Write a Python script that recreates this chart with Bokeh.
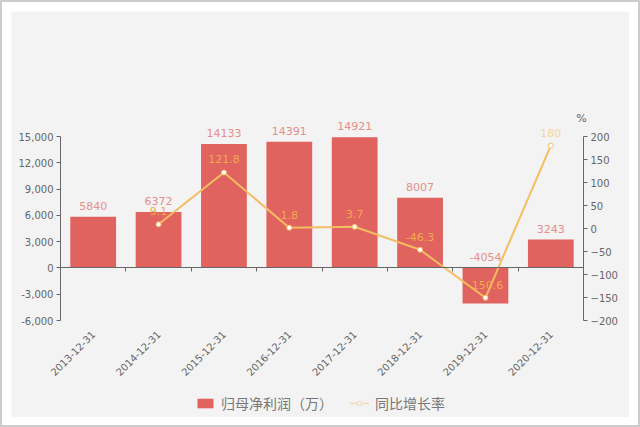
import math
from bokeh.plotting import figure
from bokeh.layouts import row, column
from bokeh.models import (Range1d, LinearAxis, FixedTicker, NumeralTickFormatter,
                          ColumnDataSource, Legend, LegendItem, Label, Spacer)
from bokeh.core.properties import value
from bokeh.embed import file_html
from bokeh.resources import INLINE

# ---- data ----
dates = ["2013-12-31", "2014-12-31", "2015-12-31", "2016-12-31",
         "2017-12-31", "2018-12-31", "2019-12-31", "2020-12-31"]
profit = [5840, 6372, 14133, 14391, 14921, 8007, -4054, 3243]
growth = [None, 9.1, 121.8, 1.8, 3.7, -46.3, -150.6, 180]
left_ticks = [-6000, -3000, 0, 3000, 6000, 9000, 12000, 15000]
right_ticks = [-200, -150, -100, -50, 0, 50, 100, 150, 200]
bar_name = "归母净利润（万）"
line_name = "同比增长率"

BG = "#f3f3f3"
BAR = "#e06360"
BAR_LBL = "#e48f8c"
LINE = "#f5bd62"
LINE_LBL = "#f2aa4a"
PALE = "#f7d9ae"
AXIS = "#666666"
NUMFONT = "DejaVu Sans"
CJK = "Noto Sans CJK SC"

# ---- layout (pixels, relative to the figure) ----
W, H = 618, 406
AX_L_PX, AX_R_PX = 49, 572               # left / right value axes
AX_TOP_PX, AX_BOT_PX = 125, 309          # where 15,000 / -6,000 sit
L_LO, L_HI = left_ticks[0], left_ticks[-1]
R_LO, R_HI = right_ticks[0], right_ticks[-1]
n = len(dates)
k = (AX_BOT_PX - AX_TOP_PX) / (L_HI - L_LO)          # px per unit
y_top = L_LO + AX_BOT_PX / k
y_bot = L_LO - (H - AX_BOT_PX) / k
c = (AX_R_PX - AX_L_PX) / n                          # px per category
x_lo = -AX_L_PX / c
x_hi = n + (W - AX_R_PX) / c
to_pct = lambda v: R_LO + (v - L_LO) * (R_HI - R_LO) / (L_HI - L_LO)

xc = [i + 0.5 for i in range(n)]

p = figure(width=W, height=H, x_range=Range1d(x_lo, x_hi), y_range=Range1d(y_bot, y_top),
           output_backend="svg", toolbar_location=None, tools="",
           background_fill_color=BG, border_fill_color=BG, outline_line_color=None,
           min_border_left=0, min_border_right=0, min_border_top=0, min_border_bottom=0)
p.xaxis.visible = False
p.yaxis.visible = False
p.xgrid.visible = False
p.ygrid.visible = False
p.extra_y_ranges = {"pct": Range1d(to_pct(y_bot), to_pct(y_top)),
                    "off": Range1d(1e6, 2e6)}

def style_axis(ax, size="10px"):
    ax.axis_line_color = AXIS
    ax.major_tick_line_color = AXIS
    ax.minor_tick_line_color = None
    ax.major_tick_out = 4
    ax.major_tick_in = 0
    ax.major_label_text_color = AXIS
    ax.major_label_text_font = NUMFONT
    ax.major_label_text_font_size = size
    ax.major_label_standoff = 3

ly = LinearAxis(fixed_location=0, ticker=FixedTicker(ticks=left_ticks),
                formatter=NumeralTickFormatter(format="0,0"), bounds=(L_LO, L_HI))
style_axis(ly)
p.add_layout(ly, "left")

ry = LinearAxis(fixed_location=n, y_range_name="pct", ticker=FixedTicker(ticks=right_ticks),
                bounds=(R_LO, R_HI))
style_axis(ry)
p.add_layout(ry, "right")

# zero-line axis with category boundary ticks
zx = LinearAxis(fixed_location=0, ticker=FixedTicker(ticks=list(range(n + 1))), bounds=(0, n))
style_axis(zx)
zx.major_label_text_font_size = "0px"
zx.major_label_text_color = None
zx.major_label_standoff = 0
p.add_layout(zx, "below")

# category label axis at the bottom of the value scale
bx = LinearAxis(fixed_location=L_LO, ticker=FixedTicker(ticks=xc),
                major_label_overrides={x: d for x, d in zip(xc, dates)})
style_axis(bx)
bx.axis_line_color = None
bx.major_tick_line_color = None
bx.major_label_orientation = math.pi / 4
bx.major_label_standoff = 8
p.add_layout(bx, "below")

# bars
bsrc = ColumnDataSource(dict(x=xc, top=profit, ly=[max(v, 0) for v in profit],
                             txt=[str(v) for v in profit]))
bars = p.vbar(x="x", top="top", bottom=0, width=0.7, source=bsrc,
              fill_color=BAR, line_color=None)
p.text(x="x", y="ly", text="txt", source=bsrc, text_align="center", text_baseline="bottom",
       y_offset=-7, text_color=BAR_LBL, text_font=value(NUMFONT), text_font_size="11px")

# line
gx = [x for x, g in zip(xc, growth) if g is not None]
gy = [g for g in growth if g is not None]
gtxt = [("%g" % g) for g in gy]
gcol = [LINE_LBL] * (len(gy) - 1) + ["#f6d3a0"]
lsrc = ColumnDataSource(dict(x=gx, y=gy, txt=gtxt, c=gcol))
p.line(x="x", y="y", source=lsrc, y_range_name="pct", line_color=LINE, line_width=2)
p.scatter(x="x", y="y", source=lsrc, y_range_name="pct", size=5, marker="circle",
          fill_color="white", line_color=LINE, line_width=1)
p.text(x="x", y="y", text="txt", source=lsrc, y_range_name="pct", text_align="center",
       text_baseline="bottom", y_offset=-9, text_color="c", text_font=value(NUMFONT),
       text_font_size="11px")

# pale legend proxy for the line series (same data on an off-screen range)
lg_line = p.line(x="x", y="y", source=lsrc, y_range_name="off", line_color=PALE, line_width=1.5)
lg_pt = p.scatter(x="x", y="y", source=lsrc, y_range_name="off", size=10, marker="circle",
                  fill_color=BG, line_color=PALE, line_width=1)

p.add_layout(Label(x=n, y=R_HI, y_range_name="pct", text="%", text_align="center",
                   text_baseline="middle", x_offset=-2, y_offset=18, text_color=AXIS,
                   text_font=NUMFONT, text_font_size="11px"))

legend = Legend(items=[LegendItem(label=bar_name, renderers=[bars]),
                       LegendItem(label=line_name, renderers=[lg_line, lg_pt])],
                orientation="horizontal", location=(184, 4),
                background_fill_alpha=0, border_line_color=None,
                label_text_font=CJK, label_text_font_size="14px", label_text_color="#777777",
                glyph_width=20, glyph_height=12, spacing=16, label_standoff=6,
                padding=0, margin=0)
p.add_layout(legend, "center")

page = column(Spacer(height=9), row(Spacer(width=9), p),
              width=636, height=423,
              styles={"border": "2px solid #cccccc", "box-sizing": "content-box"})
open("out.html", "w").write(file_html(page, INLINE))
